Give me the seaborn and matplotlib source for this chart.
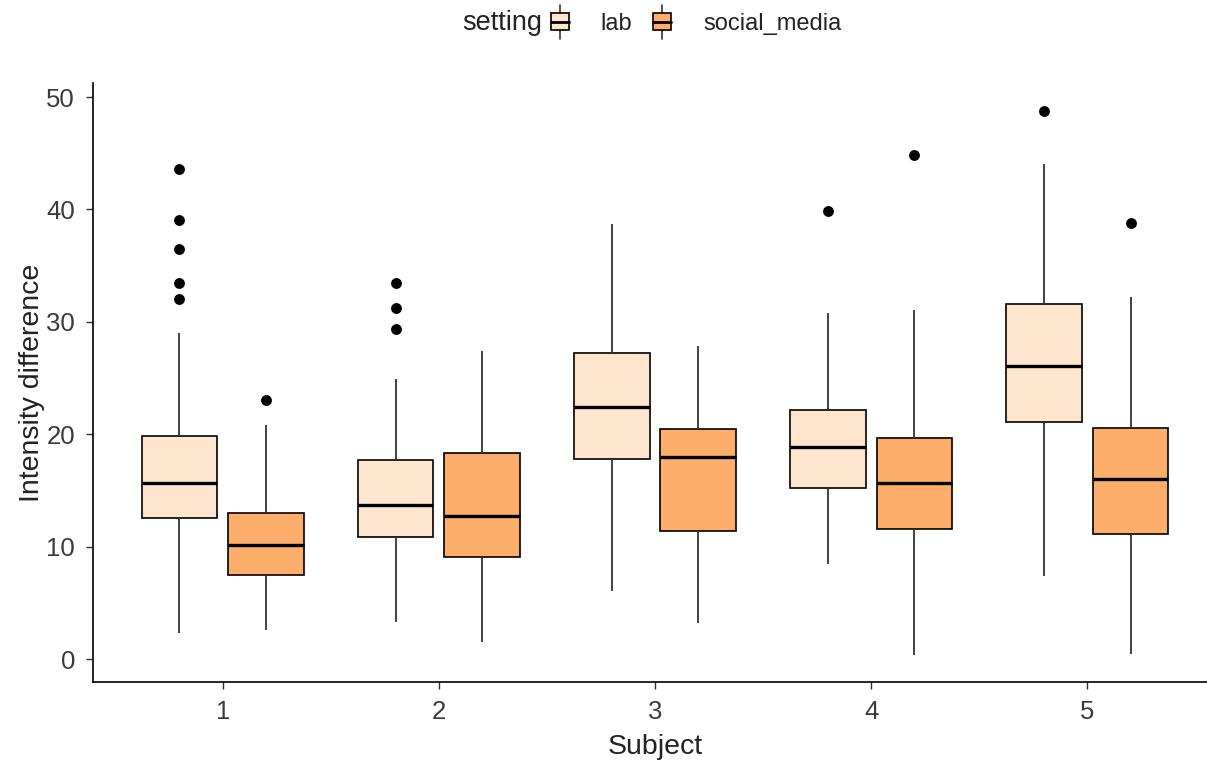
import numpy as np
import pandas as pd
import matplotlib
matplotlib.use("Agg")
import matplotlib.pyplot as plt
from matplotlib.legend_handler import HandlerBase
from matplotlib.patches import Rectangle, Patch
from matplotlib.lines import Line2D
import seaborn as sns

# ---- data (box summaries per subject) ----
subjects = ["1", "2", "3", "4", "5"]
settings = ["lab", "social_media"]

lab_lo = [2.3, 3.3, 6.1, 8.5, 7.4]
lab_q1 = [12.6, 10.9, 17.8, 15.2, 21.1]
lab_med = [15.7, 13.7, 22.4, 18.9, 26.1]
lab_q3 = [19.9, 17.7, 27.2, 22.2, 31.6]
lab_hi = [29.0, 24.9, 38.7, 30.8, 44.0]
lab_out = [[32.0, 33.5, 36.5, 39.1, 43.6], [29.4, 31.2, 33.5], [], [39.9], [48.8]]

soc_lo = [2.6, 1.5, 3.2, 0.4, 0.5]
soc_q1 = [7.5, 9.1, 11.4, 11.6, 11.1]
soc_med = [10.2, 12.7, 18.0, 15.7, 16.0]
soc_q3 = [13.0, 18.3, 20.5, 19.7, 20.6]
soc_hi = [20.8, 27.4, 27.9, 31.1, 32.2]
soc_out = [[23.1], [], [], [44.8], [38.8]]

colors = ["#FEE6CE", "#FDAE6B"]


def sample(lo, q1, med, q3, hi, out, m=10):
    # points whose quartiles / whiskers / outliers reproduce the read summary
    return [lo] * (1 + len(out)) + [q1] * m + [med] * m + [q3] * m + [hi] + list(out)


rows = []
for i, s in enumerate(subjects):
    for v in sample(lab_lo[i], lab_q1[i], lab_med[i], lab_q3[i], lab_hi[i], lab_out[i]):
        rows.append((s, "lab", v))
    for v in sample(soc_lo[i], soc_q1[i], soc_med[i], soc_q3[i], soc_hi[i], soc_out[i]):
        rows.append((s, "social_media", v))
df = pd.DataFrame(rows, columns=["Subject", "setting", "value"])

sns.set_theme(style="ticks")
plt.rcParams["font.family"] = ["Liberation Sans", "DejaVu Sans"]

W, H = 1207, 764
fig = plt.figure(figsize=(W / 100, H / 100), dpi=100)
left_px, right_px, bot_px, top_px = 93, 1217, 682, 83.3
ax = fig.add_axes([left_px / W, 1 - bot_px / H, (right_px - left_px) / W, (bot_px - top_px) / H])

sns.boxplot(
    data=df, x="Subject", y="value", hue="setting",
    order=subjects, hue_order=settings, palette=colors, saturation=1,
    width=0.8, gap=0.125, linecolor="black", linewidth=1.2,
    showcaps=False, fliersize=6.8,
    flierprops=dict(marker="o", markerfacecolor="black", markeredgecolor="black"),
    medianprops=dict(color="black", linewidth=2.4),
    whiskerprops=dict(color="#333333", linewidth=1.3),
    legend=False, ax=ax,
)

ax.set_xlim(-0.6, 4.6)
ax.set_ylim(-2.02, 51.22)
ax.set_yticks([0, 10, 20, 30, 40, 50])
sns.despine(ax=ax)
for sp in ["left", "bottom"]:
    ax.spines[sp].set_linewidth(1.2)
    ax.spines[sp].set_color("black")
ax.tick_params(axis="both", length=5, width=1.0, color="#333333", labelsize=18.5,
               labelcolor="#3A3A3A")
ax.tick_params(axis="y", pad=8)
ax.tick_params(axis="x", pad=8)
ax.set_xlabel("Subject", fontsize=20.5, color="#222222", labelpad=7)
ax.set_ylabel("Intensity difference", fontsize=20.5, color="#222222", labelpad=1)


PT = 72 / 100  # points per pixel


class BoxHandler(HandlerBase):
    def create_artists(self, legend, orig, xdescent, ydescent, width, height, fontsize, trans):
        fc = orig.get_facecolor()
        cx = -xdescent + width / 2
        cy = -ydescent + height / 2
        bw = 18 * PT
        bh = 17 * PT
        wh = 34 * PT
        x0 = cx - bw / 2
        rect = Rectangle((x0, cy - bh / 2), bw, bh, facecolor=fc,
                         edgecolor="black", linewidth=1.2, transform=trans)
        med = Line2D([x0, x0 + bw], [cy, cy], color="black", lw=2.0, transform=trans)
        w1 = Line2D([cx, cx], [cy + bh / 2, cy + wh / 2], color="#333333", lw=1.2, transform=trans)
        w2 = Line2D([cx, cx], [cy - wh / 2, cy - bh / 2], color="#333333", lw=1.2, transform=trans)
        return [w1, w2, rect, med]


handles = [Patch(facecolor=c) for c in colors]
leg = fig.legend(handles, settings, loc="center left", bbox_to_anchor=(551 / W, 1 - 23 / H),
                 ncol=2, frameon=False, fontsize=17, handler_map={Patch: BoxHandler()},
                 handlelength=0.75, handleheight=1.0, handletextpad=1.35, columnspacing=0.9,
                 borderaxespad=0, borderpad=0)
for t in leg.get_texts():
    t.set_color("#222222")
fig.text(462 / W, 1 - 23 / H, "setting", fontsize=19.5, color="#222222", ha="left", va="center")

fig.savefig("out.png", dpi=100)
